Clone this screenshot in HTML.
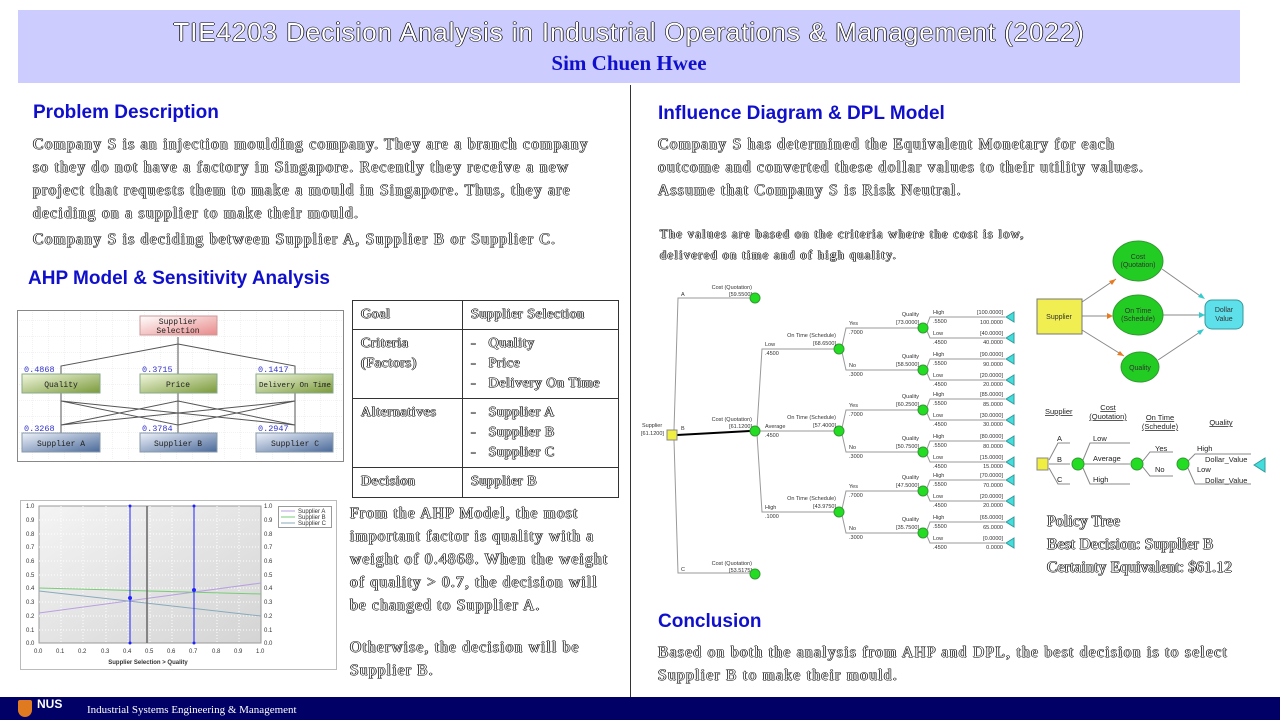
<!DOCTYPE html>
<html><head><meta charset="utf-8"><style>
*{margin:0;padding:0;box-sizing:border-box}
body{width:1280px;height:720px;position:relative;background:#fff;overflow:hidden;font-family:"Liberation Serif",serif}
.a{position:absolute;white-space:nowrap}
.o{color:#fff;text-shadow:0.7px 0 #000,-0.7px 0 #000,0 0.7px #000,0 -0.7px #000}
.h{font-family:"Liberation Sans",sans-serif;font-weight:bold;font-size:19px;color:#1010cc}
.p{font-size:15.5px;line-height:23px;letter-spacing:1.3px}
table{border-collapse:collapse}
td{border:1px solid #333;vertical-align:top;padding:4px 8px;font-size:14px;line-height:20px;letter-spacing:0.6px}
</style></head><body>
<div class="a" style="left:18px;top:10px;width:1222px;height:73px;background:#ccccff"></div>
<div class="a o" style="left:18px;top:17px;width:1222px;text-align:center;font-family:'Liberation Sans',sans-serif;font-size:26px;letter-spacing:0.9px">TIE4203 Decision Analysis in Industrial Operations &amp; Management (2022)</div>
<div class="a" style="left:18px;top:51px;width:1222px;text-align:center;font-size:21px;font-weight:bold;color:#1010cc">Sim Chuen Hwee</div>
<div class="a" style="left:630px;top:85px;width:1px;height:612px;background:#333"></div>

<div class="a h" style="left:33px;top:102px">Problem Description</div>
<div class="a o p" style="left:33px;top:133px">Company S is an injection moulding company. They are a branch company<br>so they do not have a factory in Singapore. Recently they receive a new<br>project that requests them to make a mould in Singapore. Thus, they are<br>deciding on a supplier to make their mould.</div>
<div class="a o p" style="left:33px;top:228px">Company S is deciding between Supplier A, Supplier B or Supplier C.</div>
<div class="a h" style="left:28px;top:268px">AHP Model &amp; Sensitivity Analysis</div>

<svg class="a" style="left:0;top:0" width="1280" height="720" font-family="Liberation Sans,sans-serif">
<defs>
<pattern id="g" width="16" height="16" patternUnits="userSpaceOnUse"><path d="M16 0H0V16" fill="none" stroke="#e4e4e4" stroke-width="1" stroke-dasharray="1 1"/></pattern>
<linearGradient id="pk" x1="0" y1="0" x2="1" y2="1"><stop offset="0" stop-color="#fff"/><stop offset="1" stop-color="#e88a8a"/></linearGradient>
<linearGradient id="gr" x1="0" y1="0" x2="1" y2="1"><stop offset="0" stop-color="#f2f7df"/><stop offset="1" stop-color="#7a9a3a"/></linearGradient>
<linearGradient id="bl" x1="0" y1="0" x2="1" y2="1"><stop offset="0" stop-color="#eef2fa"/><stop offset="1" stop-color="#4a6a9a"/></linearGradient>
<linearGradient id="ch" x1="0" y1="0" x2="1" y2="1"><stop offset="0" stop-color="#f4f4f4"/><stop offset="1" stop-color="#d4d4d4"/></linearGradient>
</defs>
<rect x="17.5" y="310.5" width="326" height="151" fill="#fff" stroke="#888"/>
<rect x="19" y="312" width="323" height="148" fill="url(#g)"/>
<g stroke="#555" fill="none">
<path d="M178 337V344M178 344L61 366V374M178 344V374M178 344L295 366V374"/>
<path d="M61 393V401L178 425V433M61 401L295 425V433M61 401V433M178 393V401L61 425M178 401L295 425M178 401V433M295 393V401L61 425M295 401L178 425M295 401V433"/>
</g>
<g font-family="Liberation Mono,monospace" font-size="8" text-anchor="middle" fill="#222">
<rect x="140" y="316" width="77" height="19" fill="url(#pk)" stroke="#c99"/><text x="178" y="324">Supplier</text><text x="178" y="333">Selection</text>
<rect x="22" y="374" width="78" height="19" fill="url(#gr)" stroke="#8a8"/><text x="61" y="387">Quality</text>
<rect x="140" y="374" width="77" height="19" fill="url(#gr)" stroke="#8a8"/><text x="178" y="387">Price</text>
<rect x="256" y="374" width="77" height="19" fill="url(#gr)" stroke="#8a8"/><text x="295" y="387" font-size="7.5">Delivery On Time</text>
<rect x="22" y="433" width="78" height="19" fill="url(#bl)" stroke="#89a"/><text x="61" y="446">Supplier A</text>
<rect x="140" y="433" width="77" height="19" fill="url(#bl)" stroke="#89a"/><text x="178" y="446">Supplier B</text>
<rect x="256" y="433" width="77" height="19" fill="url(#bl)" stroke="#89a"/><text x="295" y="446">Supplier C</text>
</g>
<g font-family="Liberation Mono,monospace" font-size="8.5" fill="#33c">
<text x="24" y="372">0.4868</text><text x="142" y="372">0.3715</text><text x="258" y="372">0.1417</text>
<text x="24" y="431">0.3268</text><text x="142" y="431">0.3784</text><text x="258" y="431">0.2947</text>
</g>
<rect x="20.5" y="500.5" width="316" height="169" fill="#fff" stroke="#bbb"/>
<rect x="39" y="506" width="222" height="137" fill="url(#ch)" stroke="#999"/>
<g stroke="#fff" stroke-dasharray="1 2">
<path d="M61 506V643M83 506V643M106 506V643M128 506V643M150 506V643M172 506V643M194 506V643M217 506V643M239 506V643"/>
<path d="M39 520H261M39 534H261M39 547H261M39 561H261M39 575H261M39 588H261M39 602H261M39 616H261M39 630H261"/>
</g>
<line x1="39" y1="613" x2="261" y2="583" stroke="#b9a0e0"/>
<line x1="39" y1="588" x2="261" y2="594" stroke="#7c7"/>
<line x1="39" y1="591" x2="261" y2="616" stroke="#8ab"/>
<line x1="147" y1="506" x2="147" y2="643" stroke="#666" stroke-width="1.5"/>
<line x1="130" y1="506" x2="130" y2="643" stroke="#22f"/>
<line x1="194" y1="506" x2="194" y2="643" stroke="#22f"/>
<g fill="#22f"><circle cx="130" cy="598" r="2"/><circle cx="194" cy="590" r="2"/><circle cx="130" cy="643" r="1.5"/><circle cx="194" cy="643" r="1.5"/><circle cx="130" cy="506" r="1.5"/><circle cx="194" cy="506" r="1.5"/></g>
<g font-size="6" fill="#333">
<text x="26" y="508">1.0</text><text x="26" y="522">0.9</text><text x="26" y="536">0.8</text><text x="26" y="549">0.7</text><text x="26" y="563">0.6</text><text x="26" y="577">0.5</text><text x="26" y="590">0.4</text><text x="26" y="604">0.3</text><text x="26" y="618">0.2</text><text x="26" y="632">0.1</text><text x="26" y="645">0.0</text>
<text x="264" y="508">1.0</text><text x="264" y="522">0.9</text><text x="264" y="536">0.8</text><text x="264" y="549">0.7</text><text x="264" y="563">0.6</text><text x="264" y="577">0.5</text><text x="264" y="590">0.4</text><text x="264" y="604">0.3</text><text x="264" y="618">0.2</text><text x="264" y="632">0.1</text><text x="264" y="645">0.0</text>
<text x="34" y="653">0.0</text><text x="56" y="653">0.1</text><text x="78" y="653">0.2</text><text x="101" y="653">0.3</text><text x="123" y="653">0.4</text><text x="145" y="653">0.5</text><text x="167" y="653">0.6</text><text x="189" y="653">0.7</text><text x="212" y="653">0.8</text><text x="234" y="653">0.9</text><text x="256" y="653">1.0</text>
<text x="148" y="664" text-anchor="middle" font-weight="bold">Supplier Selection &gt; Quality</text>
</g>
<rect x="278.5" y="506.5" width="53" height="21" fill="#fff" stroke="#999"/>
<g font-size="6" fill="#333"><text x="298" y="513">Supplier A</text><text x="298" y="519">Supplier B</text><text x="298" y="525">Supplier C</text></g>
<path d="M281 511H295" stroke="#b9a0e0"/><path d="M281 517H295" stroke="#7c7"/><path d="M281 523H295" stroke="#8ab"/>

<g font-size="5.5" fill="#333">
<g stroke="#999" fill="none"><path d="M674 430L678 298H750M674 440L678 573H750"/><path d="M757 428L762 349H835M757 434L762 512H835"/><path d="M759 431H835"/></g>
<path d="M677 435L750 431" stroke="#000" stroke-width="2"/>
<rect x="667" y="430" width="10" height="10" fill="#f0ee40" stroke="#888"/>
<text x="642" y="427">Supplier</text><text x="641" y="435">[61.1200]</text>
<text x="681" y="296">A</text><text x="681" y="430">B</text><text x="681" y="571">C</text>
<g text-anchor="end"><text x="752" y="289">Cost (Quotation)</text><text x="752" y="296">[59.5500]</text>
<text x="752" y="421">Cost (Quotation)</text><text x="752" y="428">[61.1200]</text>
<text x="752" y="565">Cost (Quotation)</text><text x="752" y="572">[53.5175]</text></g>
<g fill="#2d2" stroke="#393"><circle cx="755" cy="298" r="5"/><circle cx="755" cy="431" r="5"/><circle cx="755" cy="574" r="5"/></g>
<text x="765" y="346">Low</text><text x="765" y="355">.4500</text>
<text x="765" y="428">Average</text><text x="765" y="437">.4500</text>
<text x="765" y="509">High</text><text x="765" y="518">.1000</text>

<g transform="translate(839,349)">
<path d="M3-3L7-21H80M3 3L7 21H80" stroke="#999" fill="none"/>
<circle r="5" fill="#2d2" stroke="#393"/>
<text x="-3" y="-12" text-anchor="end">On Time (Schedule)</text><text x="-3" y="-4" text-anchor="end">[68.6500]</text>
<text x="10" y="-24">Yes</text><text x="10" y="-15">.7000</text><text x="10" y="18">No</text><text x="10" y="27">.3000</text>
</g>
<g transform="translate(839,431)">
<path d="M3-3L7-21H80M3 3L7 21H80" stroke="#999" fill="none"/>
<circle r="5" fill="#2d2" stroke="#393"/>
<text x="-3" y="-12" text-anchor="end">On Time (Schedule)</text><text x="-3" y="-4" text-anchor="end">[57.4000]</text>
<text x="10" y="-24">Yes</text><text x="10" y="-15">.7000</text><text x="10" y="18">No</text><text x="10" y="27">.3000</text>
</g>
<g transform="translate(839,512)">
<path d="M3-3L7-21H80M3 3L7 21H80" stroke="#999" fill="none"/>
<circle r="5" fill="#2d2" stroke="#393"/>
<text x="-3" y="-12" text-anchor="end">On Time (Schedule)</text><text x="-3" y="-4" text-anchor="end">[43.9750]</text>
<text x="10" y="-24">Yes</text><text x="10" y="-15">.7000</text><text x="10" y="18">No</text><text x="10" y="27">.3000</text>
</g>

<g transform="translate(923,328)"><path d="M4-3L7-11H82M4 3L7 10H82" stroke="#999" fill="none"/><circle r="5" fill="#2d2" stroke="#393"/><polygon points="83,-11 91,-16 91,-6" fill="#4dd" stroke="#399"/><polygon points="83,10 91,5 91,15" fill="#4dd" stroke="#399"/>
<text x="-4" y="-12" text-anchor="end">Quality</text><text x="-4" y="-4" text-anchor="end">[73.0000]</text><text x="10" y="-14">High</text><text x="10" y="-5">.5500</text><text x="10" y="7">Low</text><text x="10" y="16">.4500</text>
<g text-anchor="end"><text x="80" y="-14">[100.0000]</text><text x="80" y="-4">100.0000</text><text x="80" y="7">[40.0000]</text><text x="80" y="16">40.0000</text></g></g>
<g transform="translate(923,370)"><path d="M4-3L7-11H82M4 3L7 10H82" stroke="#999" fill="none"/><circle r="5" fill="#2d2" stroke="#393"/><polygon points="83,-11 91,-16 91,-6" fill="#4dd" stroke="#399"/><polygon points="83,10 91,5 91,15" fill="#4dd" stroke="#399"/>
<text x="-4" y="-12" text-anchor="end">Quality</text><text x="-4" y="-4" text-anchor="end">[58.5000]</text><text x="10" y="-14">High</text><text x="10" y="-5">.5500</text><text x="10" y="7">Low</text><text x="10" y="16">.4500</text>
<g text-anchor="end"><text x="80" y="-14">[90.0000]</text><text x="80" y="-4">90.0000</text><text x="80" y="7">[20.0000]</text><text x="80" y="16">20.0000</text></g></g>
<g transform="translate(923,410)"><path d="M4-3L7-11H82M4 3L7 10H82" stroke="#999" fill="none"/><circle r="5" fill="#2d2" stroke="#393"/><polygon points="83,-11 91,-16 91,-6" fill="#4dd" stroke="#399"/><polygon points="83,10 91,5 91,15" fill="#4dd" stroke="#399"/>
<text x="-4" y="-12" text-anchor="end">Quality</text><text x="-4" y="-4" text-anchor="end">[60.2500]</text><text x="10" y="-14">High</text><text x="10" y="-5">.5500</text><text x="10" y="7">Low</text><text x="10" y="16">.4500</text>
<g text-anchor="end"><text x="80" y="-14">[85.0000]</text><text x="80" y="-4">85.0000</text><text x="80" y="7">[30.0000]</text><text x="80" y="16">30.0000</text></g></g>
<g transform="translate(923,452)"><path d="M4-3L7-11H82M4 3L7 10H82" stroke="#999" fill="none"/><circle r="5" fill="#2d2" stroke="#393"/><polygon points="83,-11 91,-16 91,-6" fill="#4dd" stroke="#399"/><polygon points="83,10 91,5 91,15" fill="#4dd" stroke="#399"/>
<text x="-4" y="-12" text-anchor="end">Quality</text><text x="-4" y="-4" text-anchor="end">[50.7500]</text><text x="10" y="-14">High</text><text x="10" y="-5">.5500</text><text x="10" y="7">Low</text><text x="10" y="16">.4500</text>
<g text-anchor="end"><text x="80" y="-14">[80.0000]</text><text x="80" y="-4">80.0000</text><text x="80" y="7">[15.0000]</text><text x="80" y="16">15.0000</text></g></g>
<g transform="translate(923,491)"><path d="M4-3L7-11H82M4 3L7 10H82" stroke="#999" fill="none"/><circle r="5" fill="#2d2" stroke="#393"/><polygon points="83,-11 91,-16 91,-6" fill="#4dd" stroke="#399"/><polygon points="83,10 91,5 91,15" fill="#4dd" stroke="#399"/>
<text x="-4" y="-12" text-anchor="end">Quality</text><text x="-4" y="-4" text-anchor="end">[47.5000]</text><text x="10" y="-14">High</text><text x="10" y="-5">.5500</text><text x="10" y="7">Low</text><text x="10" y="16">.4500</text>
<g text-anchor="end"><text x="80" y="-14">[70.0000]</text><text x="80" y="-4">70.0000</text><text x="80" y="7">[20.0000]</text><text x="80" y="16">20.0000</text></g></g>
<g transform="translate(923,533)"><path d="M4-3L7-11H82M4 3L7 10H82" stroke="#999" fill="none"/><circle r="5" fill="#2d2" stroke="#393"/><polygon points="83,-11 91,-16 91,-6" fill="#4dd" stroke="#399"/><polygon points="83,10 91,5 91,15" fill="#4dd" stroke="#399"/>
<text x="-4" y="-12" text-anchor="end">Quality</text><text x="-4" y="-4" text-anchor="end">[35.7500]</text><text x="10" y="-14">High</text><text x="10" y="-5">.5500</text><text x="10" y="7">Low</text><text x="10" y="16">.4500</text>
<g text-anchor="end"><text x="80" y="-14">[65.0000]</text><text x="80" y="-4">65.0000</text><text x="80" y="7">[0.0000]</text><text x="80" y="16">0.0000</text></g></g>
</g>

<g stroke="#888" fill="none"><path d="M1082 302L1116 279M1082 316H1112M1082 330L1124 356M1162 269L1203 298M1163 315H1205M1158 360L1203 330"/></g>
<g fill="#e87a20"><polygon points="1116,279 1109,281 1112,285"/><polygon points="1113,316 1107,313 1107,319"/><polygon points="1124,356 1117,355 1120,351"/></g>
<g fill="#3cc"><polygon points="1205,299 1198,297 1201,293"/><polygon points="1205,315 1199,312 1199,318"/><polygon points="1204,329 1197,331 1200,335"/></g>
<rect x="1037" y="299" width="45" height="35" fill="#f0ee50" stroke="#777"/>
<g fill="#2c2" stroke="#393"><ellipse cx="1138" cy="261" rx="25" ry="20"/><ellipse cx="1138" cy="315" rx="25" ry="20"/><ellipse cx="1140" cy="367" rx="19" ry="15"/></g>
<rect x="1205" y="300" width="38" height="29" rx="7" fill="#5de0ea" stroke="#399"/>
<g font-size="7" fill="#333" text-anchor="middle">
<text x="1059" y="319">Supplier</text><text x="1138" y="259">Cost</text><text x="1138" y="267">(Quotation)</text>
<text x="1138" y="313">On Time</text><text x="1138" y="321">(Schedule)</text><text x="1140" y="370">Quality</text>
<text x="1224" y="312">Dollar</text><text x="1224" y="321">Value</text>
</g>
<g font-size="7.5" fill="#222">
<g text-decoration="underline"><text x="1045" y="414">Supplier</text><text x="1108" y="410" text-anchor="middle">Cost</text><text x="1108" y="419" text-anchor="middle">(Quotation)</text>
<text x="1160" y="420" text-anchor="middle">On Time</text><text x="1160" y="429" text-anchor="middle">(Schedule)</text><text x="1221" y="425" text-anchor="middle">Quality</text></g>
<g stroke="#888" fill="none"><path d="M1049 460L1058 443H1070M1049 464H1070M1049 468L1058 484H1070M1083 460L1090 443H1130M1083 464H1130M1083 468L1090 484H1130M1142 462L1150 452H1173M1142 466L1150 476H1173M1187 462L1195 454H1251M1187 466L1195 484H1251"/></g>
<rect x="1037" y="458" width="11" height="12" fill="#f0ee40" stroke="#888"/>
<g fill="#2d2" stroke="#393"><circle cx="1078" cy="464" r="6"/><circle cx="1137" cy="464" r="6"/><circle cx="1183" cy="464" r="6"/></g>
<polygon points="1254,465 1265,458 1265,472" fill="#4dd" stroke="#399"/>
<text x="1057" y="441">A</text><text x="1057" y="462">B</text><text x="1057" y="482">C</text>
<text x="1093" y="441">Low</text><text x="1093" y="461">Average</text><text x="1093" y="482">High</text>
<text x="1155" y="451">Yes</text><text x="1155" y="472">No</text>
<text x="1197" y="451">High</text><text x="1205" y="462">Dollar_Value</text><text x="1197" y="472">Low</text><text x="1205" y="483">Dollar_Value</text>
</g>
</svg>

<table class="a o" style="left:352px;top:300px;width:267px">
<tr style="height:29px"><td style="width:110px">Goal</td><td>Supplier Selection</td></tr>
<tr style="height:69px"><td>Criteria<br>(Factors)</td><td>-&nbsp;&nbsp;&nbsp;Quality<br>-&nbsp;&nbsp;&nbsp;Price<br>-&nbsp;&nbsp;&nbsp;Delivery On Time</td></tr>
<tr style="height:64px"><td>Alternatives</td><td>-&nbsp;&nbsp;&nbsp;Supplier A<br>-&nbsp;&nbsp;&nbsp;Supplier B<br>-&nbsp;&nbsp;&nbsp;Supplier C</td></tr>
<tr style="height:30px"><td>Decision</td><td>Supplier B</td></tr>
</table>

<div class="a o p" style="left:350px;top:502px;letter-spacing:1.2px">From the AHP Model, the most<br>important factor is quality with a<br>weight of 0.4868. When the weight<br>of quality &gt; 0.7, the decision will<br>be changed to Supplier A.</div>
<div class="a o p" style="left:350px;top:636px;letter-spacing:1.2px">Otherwise, the decision will be<br>Supplier B.</div>

<div class="a h" style="left:658px;top:103px">Influence Diagram &amp; DPL Model</div>
<div class="a o p" style="left:658px;top:133px">Company S has determined the Equivalent Monetary for each<br>outcome and converted these dollar values to their utility values.<br>Assume that Company S is Risk Neutral.</div>
<div class="a o" style="left:660px;top:224px;font-size:12.5px;line-height:21px;letter-spacing:1.3px">The values are based on the criteria where the cost is low,<br>delivered on time and of high quality.</div>
<div class="a o p" style="left:1047px;top:510px;letter-spacing:0.2px">Policy Tree<br>Best Decision: Supplier B<br>Certainty Equivalent: $61.12</div>
<div class="a h" style="left:658px;top:611px">Conclusion</div>
<div class="a o p" style="left:658px;top:641px">Based on both the analysis from AHP and DPL, the best decision is to select<br>Supplier B to make their mould.</div>

<div class="a" style="left:0;top:697px;width:1280px;height:23px;background:#000066"></div>
<div class="a" style="left:18px;top:700px;width:14px;height:17px;background:#e07a20;border-radius:2px 2px 7px 7px"></div>
<div class="a" style="left:37px;top:697px;color:#fff;font-family:'Liberation Sans',sans-serif;font-weight:bold;font-size:12px">NUS</div>
<div class="a" style="left:87px;top:704px;color:#fff;font-size:11px">Industrial Systems Engineering &amp; Management</div>
</body></html>
